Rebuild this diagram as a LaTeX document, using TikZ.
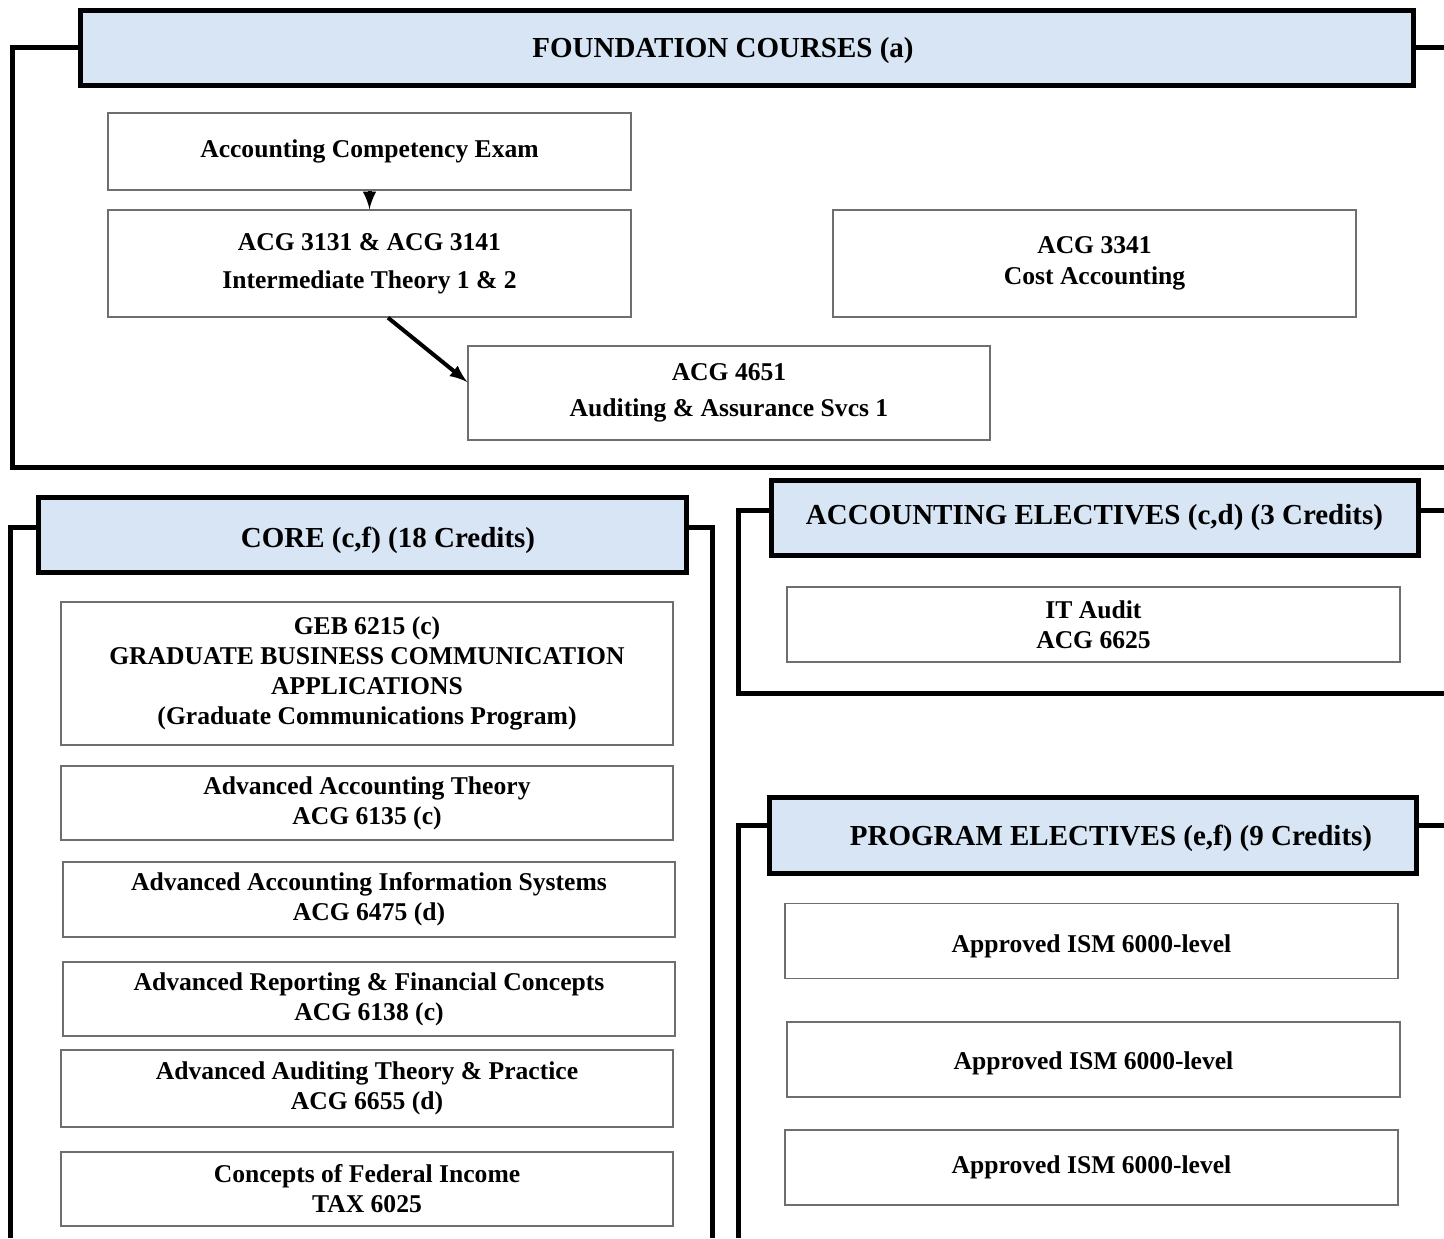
\documentclass[tikz,border=0pt]{standalone}
\usepackage{fontspec}
\setmainfont{Liberation Serif}
\usetikzlibrary{arrows,calc}
\definecolor{hdrblue}{RGB}{216,229,244}
\definecolor{boxgray}{RGB}{110,110,110}

\tikzset{
  hdr/.style={draw=black, line width=2.5pt, fill=hdrblue, minimum height=37.5pt, inner sep=0pt,
    font=\fontsize{14.5}{16}\selectfont\bfseries},
  crs/.style={draw=boxgray, line width=0.7pt, fill=white, align=center, inner sep=0pt,
    font=\fontsize{12.8}{15}\selectfont\bfseries},
  fcrs/.style={crs, minimum width=261.5pt, minimum height=53.5pt},
  ccrs/.style={crs, minimum width=306pt},
  ecrs/.style={crs, minimum width=306.5pt, minimum height=37.5pt},
  frame/.style={black, line width=2.5pt},
  arr/.style={black, line width=2pt, -latex}
}

\begin{document}
\begin{tikzpicture}[x=0.5pt, y=-0.5pt]
\useasboundingbox (0,0) rectangle (1444,1238);

% foundation
\node[hdr, minimum width=666.5pt] (found) at (746.5,47.5) {\hspace*{-23.5pt}\rule{0pt}{13.5pt}FOUNDATION COURSES (a)};
\node[fcrs, minimum height=38.5pt] (exam) at (369.5,151.5) {Accounting Competency Exam};
\node[fcrs, font=\fontsize{12.8}{19}\selectfont\bfseries] (inter) at (369.5,263.5) {ACG 3131 \& ACG 3141\\Intermediate Theory 1 \& 2};
\node[fcrs, font=\fontsize{12.8}{15.5}\selectfont\bfseries] (cost) at (1094.5,263.5) {ACG 3341\\Cost Accounting};
\node[fcrs, minimum width=261pt, minimum height=47pt, font=\fontsize{12.8}{18}\selectfont\bfseries] (audit) at (729,393) {ACG 4651\\Auditing \& Assurance Svcs 1};
\draw[arr] (exam) -- (inter);
\draw[arr] ([xshift=9.25pt]inter.south) -- ([yshift=5.5pt]audit.west);
\coordinate (fL) at (12,467);
\coordinate (fR) at (1444,467);
\draw[frame] (found.west) -| (fL) -- (fR);
\draw[frame] (found.east) -- (found.east -| fR);

% core
\node[hdr, minimum width=324pt] (core) at (362,534.5) {\hspace*{26pt}\rule{0pt}{16pt}CORE (c,f) (18 Credits)};
\node[ccrs, minimum height=71.5pt] (geb) at (367,673.5) {GEB 6215 (c)\\GRADUATE BUSINESS COMMUNICATION\\APPLICATIONS\\(Graduate Communications Program)};
\node[ccrs, minimum height=37pt] (aat) at (367,803) {Advanced Accounting Theory\\ACG 6135 (c)};
\node[ccrs, minimum height=37.5pt] (aais) at (369,899.5) {Advanced Accounting Information Systems\\ACG 6475 (d)};
\node[ccrs, minimum height=37pt] (arfc) at (369,999) {Advanced Reporting \& Financial Concepts\\ACG 6138 (c)};
\node[ccrs, minimum height=38.5pt] (aatp) at (367,1088.5) {Advanced Auditing Theory \& Practice\\ACG 6655 (d)};
\node[ccrs, minimum height=37pt] (cfi) at (367,1189) {Concepts of Federal Income\\TAX 6025};
\coordinate (cTL) at (10,527);
\coordinate (cBL) at (10,1238);
\coordinate (cTR) at (712,527);
\coordinate (cBR) at (712,1238);
\draw[frame] (cTL -| core.west) -- (cTL) -- (cBL);
\draw[frame] (cTR -| core.east) -- (cTR) -- (cBR);

% accounting electives
\node[hdr, minimum width=323.5pt] (acc) at (1094.5,517.5) {ACCOUNTING ELECTIVES (c,d) (3 Credits)};
\node[ecrs] (itaudit) at (1093.5,624.5) {IT Audit\\ACG 6625};
\coordinate (aTL) at (738,510);
\coordinate (aBL) at (738,693);
\coordinate (aBR) at (1444,693);
\coordinate (aTR) at (1444,510);
\draw[frame] (aTL -| acc.west) -- (aTL) -- (aBL) -- (aBR);
\draw[frame] (aTR -| acc.east) -- (aTR);

% program electives
\node[hdr, minimum width=323.5pt, minimum height=38pt] (prog) at (1092.5,835) {\hspace*{18.5pt}\rule{0pt}{13.5pt}PROGRAM ELECTIVES (e,f) (9 Credits)};
\node[ecrs] (pe1) at (1091.5,941) {\rule{0pt}{14pt}Approved ISM 6000-level};
\node[ecrs] (pe2) at (1093.5,1059.5) {\rule{0pt}{13pt}Approved ISM 6000-level};
\node[ecrs] (pe3) at (1091.5,1167.5) {Approved ISM 6000-level};
\coordinate (pTL) at (738,825);
\coordinate (pBL) at (738,1238);
\coordinate (pTR) at (1444,825);
\draw[frame] (pTL -| prog.west) -- (pTL) -- (pBL);
\draw[frame] (pTR -| prog.east) -- (pTR);
\end{tikzpicture}
\end{document}
